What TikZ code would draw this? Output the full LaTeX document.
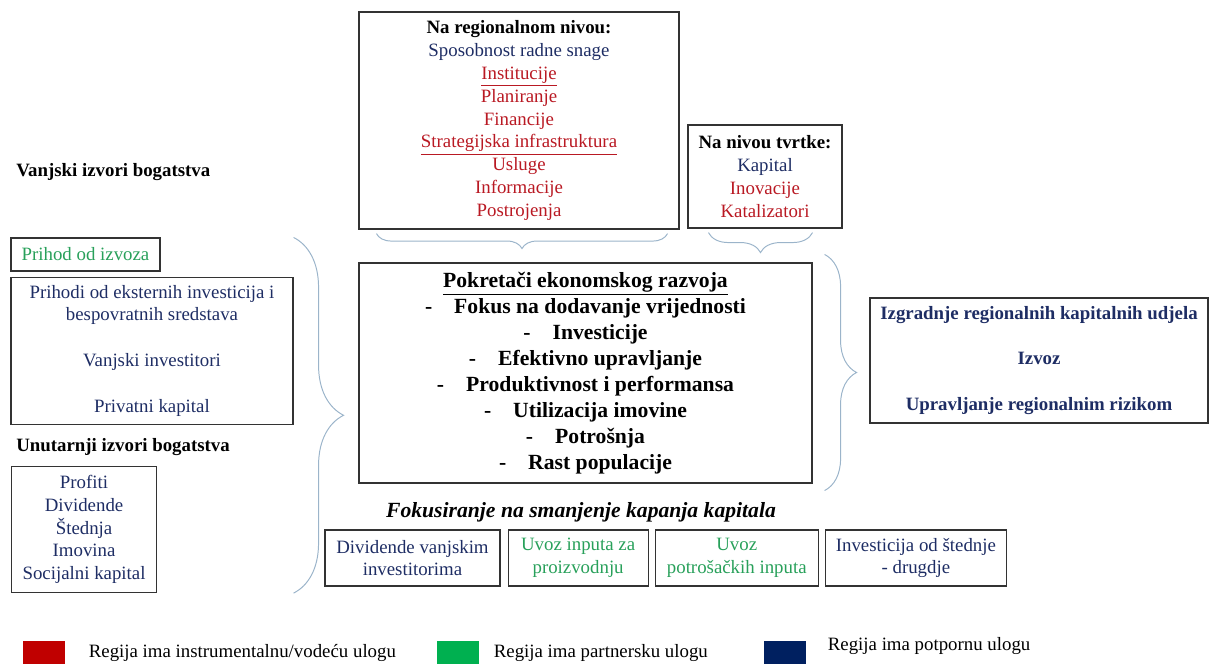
\documentclass[tikz,border=0pt]{standalone}
\usepackage{fontspec}
\setmainfont{Liberation Serif}
\usepackage{tikz}
\usetikzlibrary{positioning,calc,decorations.pathreplacing}
\usepackage{xcolor}
\definecolor{regred}{RGB}{192,0,0}
\definecolor{reggreen}{RGB}{0,176,80}
\definecolor{regnavy}{RGB}{0,32,96}
\definecolor{redtxt}{RGB}{185,25,35}
\definecolor{greentxt}{RGB}{40,160,90}
\definecolor{navytxt}{RGB}{30,45,100}
\definecolor{bracegray}{RGB}{155,180,202}

\begin{document}
\begin{tikzpicture}[
				box/.style={draw=black!80,line width=0.8pt,rectangle,align=center,inner sep=2pt,font=\fontsize{13.4}{16.2}\selectfont},
				heading/.style={anchor=west,inner sep=0pt,font=\fontsize{13.4}{16.2}\selectfont\bfseries},
				swatch/.style={rectangle,anchor=north west,inner sep=0pt,minimum width=1.05cm,minimum height=0.575cm},
				keytext/.style={anchor=west,inner sep=0pt,font=\fontsize{13.4}{16.2}\selectfont},
				grp/.style={draw=bracegray,line width=0.7pt,decorate}
				]
				
				\useasboundingbox (0,0) rectangle (30.25,-16.6);
				
				% Pokretaci u sredini
				\node[box,minimum width=11.325cm,minimum height=5.5cm,font=\fontsize{15.4}{18.5}\selectfont\bfseries] (drivers) at (14.6375,-9.325) {
					\underline{Pokretači ekonomskog razvoja}\\
					-\hspace{0.55cm}Fokus na dodavanje vrijednosti\\
					-\hspace{0.55cm}Investicije\\
					-\hspace{0.55cm}Efektivno upravljanje\\
					-\hspace{0.55cm}Produktivnost i performansa\\
					-\hspace{0.55cm}Utilizacija imovine\\
					-\hspace{0.55cm}Potrošnja\\
					-\hspace{0.55cm}Rast populacije
				};
				
				% Regionalni nivo i nivo tvrtke
				\node[box,minimum width=8cm,minimum height=5.425cm] (region) at (12.975,-3.0125) {
					\textbf{Na regionalnom nivou:}\\
					\textcolor{navytxt}{Sposobnost radne snage}\\
					\textcolor{redtxt}{\underline{Institucije}}\\
					\textcolor{redtxt}{Planiranje}\\
					\textcolor{redtxt}{Financije}\\
					\textcolor{redtxt}{\underline{Strategijska infrastruktura}}\\
					\textcolor{redtxt}{Usluge}\\
					\textcolor{redtxt}{Informacije}\\
					\textcolor{redtxt}{Postrojenja}
				};
				\node[box,minimum width=3.85cm,minimum height=2.575cm] (firm) at (19.125,-4.4125) {
					\textbf{Na nivou tvrtke:}\\
					\textcolor{navytxt}{Kapital}\\
					\textcolor{redtxt}{Inovacije}\\
					\textcolor{redtxt}{Katalizatori}
				};
				
				% Vanjski izvori
				\node[heading] (outer) at (0.4,-4.3) {Vanjski izvori bogatstva};
				\node[box,minimum width=3.725cm,minimum height=0.825cm,text=greentxt] (exportin) at (2.1375,-6.3625) {Prihod od izvoza};
				\node[box,minimum width=7.05cm,minimum height=3.675cm,text=navytxt,below=0.125cm of exportin.south west,anchor=north west] (external) {
					Prihodi od eksternih investicija i\\
					bespovratnih sredstava\\[0.57cm]
					Vanjski investitori\\[0.57cm]
					Privatni kapital
				};
				
				% Unutarnji izvori
				\node[heading] (inner) at (0.4,-11.175) {Unutarnji izvori bogatstva};
				\node[box,minimum width=3.625cm,minimum height=3.15cm,text=navytxt,anchor=north west] (internal) at (0.275,-11.65) {
					Profiti\\
					Dividende\\
					Štednja\\
					Imovina\\
					Socijalni kapital
				};
				
				% Rezultati desno
				\node[box,minimum width=8.45cm,minimum height=3.125cm,text=navytxt,font=\fontsize{13.4}{16.2}\selectfont\bfseries] (results) at (25.975,-9.0125) {
					Izgradnje regionalnih kapitalnih udjela\\[0.57cm]
					Izvoz\\[0.57cm]
					Upravljanje regionalnim rizikom
				};
				
				% Kapanje kapitala
				\node[inner sep=0pt,font=\fontsize{15.4}{18.5}\selectfont\bfseries\itshape] (leakage) at (14.525,-12.8) {Fokusiranje na smanjenje kapanja kapitala};
				\node[box,minimum width=4.375cm,minimum height=1.4cm,text=navytxt] (leak1) at (10.3125,-13.95) {Dividende vanjskim\\investitorima};
				\node[box,minimum width=3.5cm,minimum height=1.4cm,text=greentxt,right=0.175cm of leak1] (leak2) {Uvoz inputa za\\proizvodnju};
				\node[box,minimum width=4.075cm,minimum height=1.4cm,text=greentxt,right=0.15cm of leak2] (leak3) {Uvoz\\potrošačkih inputa};
				\node[box,minimum width=4.525cm,minimum height=1.4cm,text=navytxt,right=0.15cm of leak3] (leak4) {Investicija od štednje\\- drugdje};
				
				% Zagrade
				\draw[grp,decoration={brace,amplitude=1.25cm}] (external.east |- exportin.north) -- (external.east |- internal.south);
				\draw[grp,decoration={brace,amplitude=0.375cm}] ($(region.south east)+(-0.3,-0.1)$) -- ($(region.south west)+(0.45,-0.1)$);
				\draw[grp,decoration={brace,amplitude=0.5cm}] ($(firm.south east)+(-0.75,-0.1)$) -- ($(firm.south west)+(0.525,-0.1)$);
				\draw[grp,decoration={brace,amplitude=0.8cm}] ($(drivers.north east)+(0.3,0.2)$) -- ($(drivers.south east)+(0.3,-0.175)$);
				
				% Legenda
				\node[swatch,fill=regred] (redkey) at (0.575,-16.025) {};
				\node[keytext,right=0.575cm of redkey.east] (redlabel) {Regija ima instrumentalnu/vodeću ulogu};
				\node[swatch,fill=reggreen] (greenkey) at (10.925,-16.025) {};
				\node[keytext,right=0.35cm of greenkey.east] (greenlabel) {Regija ima partnersku ulogu};
				\node[swatch,fill=regnavy] (navykey) at (19.1,-16.025) {};
				\node[keytext,right=0.525cm of navykey.east,yshift=0.175cm] (navylabel) {Regija ima potpornu ulogu};
				
			\end{tikzpicture}
\end{document}
